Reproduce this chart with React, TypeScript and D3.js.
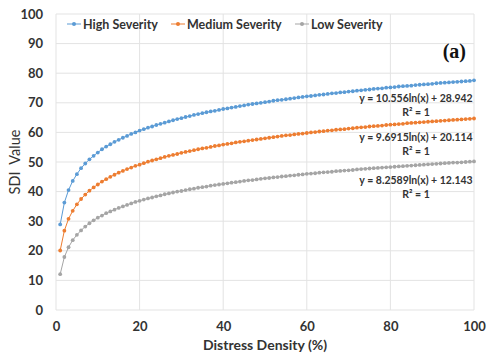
import React, { useRef, useEffect } from "react";
import * as d3 from "d3";

// distress density (%) on the x axis, one point per percent
const density = d3.range(1, 101);

// SDI values (1..100 %)
const highSeverity = [
  28.9, 36.3, 40.5, 43.6, 45.9, 47.9, 49.5, 50.9, 52.1, 53.2,
  54.3, 55.2, 56.0, 56.8, 57.5, 58.2, 58.8, 59.5, 60.0, 60.6,
  61.1, 61.6, 62.0, 62.5, 62.9, 63.3, 63.7, 64.1, 64.5, 64.8,
  65.2, 65.5, 65.9, 66.2, 66.5, 66.8, 67.1, 67.3, 67.6, 67.9,
  68.1, 68.4, 68.6, 68.9, 69.1, 69.4, 69.6, 69.8, 70.0, 70.2,
  70.4, 70.7, 70.9, 71.0, 71.2, 71.4, 71.6, 71.8, 72.0, 72.2,
  72.3, 72.5, 72.7, 72.8, 73.0, 73.2, 73.3, 73.5, 73.6, 73.8,
  73.9, 74.1, 74.2, 74.4, 74.5, 74.7, 74.8, 74.9, 75.1, 75.2,
  75.3, 75.5, 75.6, 75.7, 75.8, 76.0, 76.1, 76.2, 76.3, 76.4,
  76.6, 76.7, 76.8, 76.9, 77.0, 77.1, 77.2, 77.3, 77.4, 77.6,
];
const mediumSeverity = [
  20.1, 26.8, 30.8, 33.5, 35.7, 37.5, 39.0, 40.3, 41.4, 42.4,
  43.4, 44.2, 45.0, 45.7, 46.4, 47.0, 47.6, 48.1, 48.7, 49.1,
  49.6, 50.1, 50.5, 50.9, 51.3, 51.7, 52.1, 52.4, 52.7, 53.1,
  53.4, 53.7, 54.0, 54.3, 54.6, 54.8, 55.1, 55.4, 55.6, 55.9,
  56.1, 56.3, 56.6, 56.8, 57.0, 57.2, 57.4, 57.6, 57.8, 58.0,
  58.2, 58.4, 58.6, 58.8, 59.0, 59.1, 59.3, 59.5, 59.6, 59.8,
  60.0, 60.1, 60.3, 60.4, 60.6, 60.7, 60.9, 61.0, 61.1, 61.3,
  61.4, 61.6, 61.7, 61.8, 62.0, 62.1, 62.2, 62.3, 62.5, 62.6,
  62.7, 62.8, 62.9, 63.1, 63.2, 63.3, 63.4, 63.5, 63.6, 63.7,
  63.8, 63.9, 64.0, 64.1, 64.2, 64.3, 64.4, 64.5, 64.6, 64.7,
];
const lowSeverity = [
  12.1, 17.9, 21.2, 23.6, 25.4, 26.9, 28.2, 29.3, 30.3, 31.2,
  31.9, 32.7, 33.3, 33.9, 34.5, 35.0, 35.5, 36.0, 36.5, 36.9,
  37.3, 37.7, 38.0, 38.4, 38.7, 39.1, 39.4, 39.7, 40.0, 40.2,
  40.5, 40.8, 41.0, 41.3, 41.5, 41.7, 42.0, 42.2, 42.4, 42.6,
  42.8, 43.0, 43.2, 43.4, 43.6, 43.8, 43.9, 44.1, 44.3, 44.5,
  44.6, 44.8, 44.9, 45.1, 45.2, 45.4, 45.5, 45.7, 45.8, 46.0,
  46.1, 46.2, 46.4, 46.5, 46.6, 46.7, 46.9, 47.0, 47.1, 47.2,
  47.3, 47.5, 47.6, 47.7, 47.8, 47.9, 48.0, 48.1, 48.2, 48.3,
  48.4, 48.5, 48.6, 48.7, 48.8, 48.9, 49.0, 49.1, 49.2, 49.3,
  49.4, 49.5, 49.6, 49.7, 49.8, 49.8, 49.9, 50.0, 50.1, 50.2,
];

const seriesNames = ["High Severity", "Medium Severity", "Low Severity"];
const seriesValues = [highSeverity, mediumSeverity, lowSeverity];
const seriesColors = ["#5b9bd5", "#ed7d31", "#a5a5a5"];
const trendLabels = [
  "y = 10.556ln(x) + 28.942",
  "y = 9.6915ln(x) + 20.114",
  "y = 8.2589ln(x) + 12.143",
];
const xTicks = [0, 20, 40, 60, 80, 100];
const yTicks = [0, 10, 20, 30, 40, 50, 60, 70, 80, 90, 100];

function App() {
  const svgRef = useRef(null);

  useEffect(() => {
    const w = 487;
    const h = 360;
    const margin = { top: 14, right: 13, bottom: 50, left: 56 };
    const font = "Lato, 'Open Sans', sans-serif";

    const svg = d3.select(svgRef.current).attr("width", w).attr("height", h);
    svg.selectAll("*").remove();

    const xScale = d3.scaleLinear().domain([0, 100]).range([margin.left, w - margin.right]);
    const yScale = d3.scaleLinear().domain([0, 100]).range([h - margin.bottom, margin.top]);

    // gridlines
    svg
      .append("g")
      .selectAll("line")
      .data(yTicks)
      .enter()
      .append("line")
      .attr("x1", xScale(0))
      .attr("x2", xScale(100))
      .attr("y1", (d) => yScale(d))
      .attr("y2", (d) => yScale(d))
      .attr("stroke", "#e3e3e3")
      .attr("stroke-width", 1);
    svg
      .append("g")
      .selectAll("line")
      .data(xTicks)
      .enter()
      .append("line")
      .attr("x1", (d) => xScale(d))
      .attr("x2", (d) => xScale(d))
      .attr("y1", yScale(0))
      .attr("y2", yScale(100))
      .attr("stroke", "#e3e3e3")
      .attr("stroke-width", 1);

    // axes, labels only
    const xAxis = d3.axisBottom(xScale).tickValues(xTicks).tickSize(0).tickPadding(12);
    const yAxis = d3.axisLeft(yScale).tickValues(yTicks).tickSize(0).tickPadding(13);
    const gx = svg.append("g").attr("transform", `translate(0, ${yScale(0)})`).call(xAxis);
    const gy = svg.append("g").attr("transform", `translate(${xScale(0)}, 0)`).call(yAxis);
    [gx, gy].forEach((g) => {
      g.select(".domain").remove();
      g.selectAll("text")
        .attr("font-family", font)
        .attr("font-size", 13)
        .attr("font-weight", "bold")
        .attr("fill", "#333");
    });

    // axis titles
    svg
      .append("text")
      .attr("x", (xScale(0) + xScale(100)) / 2)
      .attr("y", 350)
      .attr("text-anchor", "middle")
      .attr("font-family", font)
      .attr("font-size", 14)
      .attr("font-weight", "bold")
      .attr("fill", "#333")
      .text("Distress Density (%)");
    svg
      .append("text")
      .attr("transform", `translate(20, ${(yScale(0) + yScale(100)) / 2}) rotate(-90)`)
      .attr("text-anchor", "middle")
      .attr("font-family", font)
      .attr("font-size", 14.5)
      .attr("fill", "#333")
      .style("white-space", "pre")
      .text("SDI  Value");

    // series
    const line = d3
      .line()
      .x((d) => xScale(d[0]))
      .y((d) => yScale(d[1]));
    seriesValues.forEach((vals, i) => {
      const pts = density.map((x, j) => [x, vals[j]]);
      svg
        .append("path")
        .datum(pts)
        .attr("d", line)
        .attr("fill", "none")
        .attr("stroke", seriesColors[i])
        .attr("stroke-width", 1);
      svg
        .append("g")
        .selectAll("circle")
        .data(pts)
        .enter()
        .append("circle")
        .attr("cx", (d) => xScale(d[0]))
        .attr("cy", (d) => yScale(d[1]))
        .attr("r", 1.9)
        .attr("fill", seriesColors[i]);
    });

    // trendline equations
    const eqY = [98, 137, 180];
    trendLabels.forEach((t, i) => {
      const g = svg
        .append("g")
        .attr("font-family", font)
        .attr("font-size", 10.5)
        .attr("font-weight", "bold")
        .attr("fill", "#333")
        .attr("text-anchor", "middle");
      g.append("text").attr("x", 416).attr("y", eqY[i] + 4).text(t);
      g.append("text").attr("x", 416).attr("y", eqY[i] + 18).text("R² = 1");
    });

    // legend
    const legendX = [67, 171, 295];
    seriesNames.forEach((name, i) => {
      const g = svg.append("g").attr("transform", `translate(${legendX[i]}, 24)`);
      g.append("line")
        .attr("x1", 0)
        .attr("x2", 14)
        .attr("stroke", seriesColors[i])
        .attr("stroke-width", 1);
      g.append("circle").attr("cx", 7).attr("r", 2).attr("fill", seriesColors[i]);
      g.append("text")
        .attr("x", 16)
        .attr("y", 4.5)
        .attr("font-family", font)
        .attr("font-size", 12.5)
        .attr("font-weight", "bold")
        .attr("fill", "#333")
        .text(name);
    });

    // panel label
    svg
      .append("text")
      .attr("x", 466)
      .attr("y", 58)
      .attr("text-anchor", "end")
      .style("font-family", "'Liberation Serif', 'Times New Roman', serif")
      .attr("font-size", 20)
      .attr("font-weight", "bold")
      .attr("fill", "#111")
      .text("(a)");
  }, []);

  return (
    <div style={{ position: "absolute", left: 0, top: 0, background: "#fff" }}>
      <svg ref={svgRef} style={{ display: "block" }}></svg>
    </div>
  );
}

export default App;
